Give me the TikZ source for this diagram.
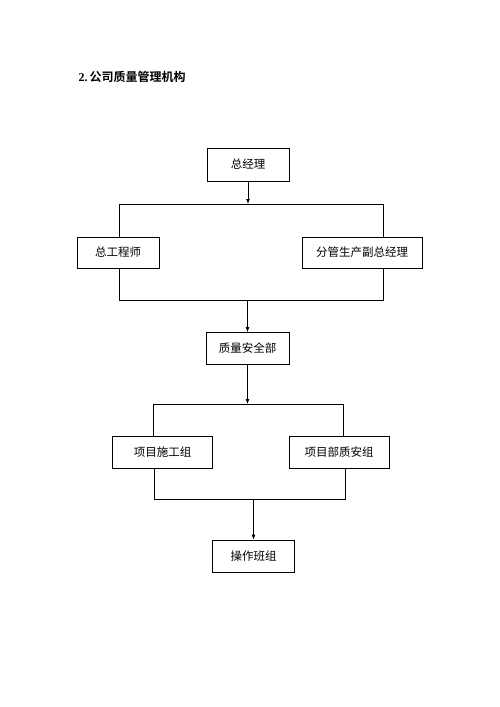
\documentclass[tikz,border=0pt]{standalone}
\usepackage{fontspec}
\setmainfont{Liberation Serif}
\newfontfamily\cjk{Noto Sans CJK SC}
\newfontfamily\cjkb{Noto Sans CJK SC Bold}
\usetikzlibrary{arrows.meta}
\begin{document}
\begin{tikzpicture}[x=1pt,y=-1pt,
  box/.style={draw, line width=0.8pt, inner sep=0pt, font=\cjk\fontsize{11.5}{13}\selectfont},
  ln/.style={line width=0.8pt},
  arr/.style={line width=0.8pt,-{Latex[length=5pt,width=4pt]}}]
\useasboundingbox (0,0) rectangle (500,707);
\node[anchor=west, font=\fontsize{12}{14}\selectfont] (title) at (75,77) {\textbf{2.}\,{\cjkb 公司质量管理机构}};
\node[box, minimum width=82pt, minimum height=33pt] (a) at (248,164.5) {总经理};
\node[box, minimum width=82pt, minimum height=31pt] (b) at (118,252.5) {总工程师};
\node[box, minimum width=120pt, minimum height=31pt] (c) at (362,252.5) {分管生产副总经理};
\node[box, minimum width=83pt, minimum height=32pt] (d) at (247.5,348.5) {质量安全部};
\node[box, minimum width=100pt, minimum height=32pt] (e) at (162.5,452.5) {项目施工组};
\node[box, minimum width=100pt, minimum height=32pt] (f) at (339,452.5) {项目部质安组};
\node[box, minimum width=82pt, minimum height=32pt] (g) at (253.5,556) {操作班组};
% level 1
\coordinate (t1l) at (119,204);
\coordinate (t1r) at (383,204);
\coordinate (b1l) at (119,300);
\coordinate (b1r) at (383,300);
\draw[arr] (a.south) -- (a.south |- t1l);
\draw[ln] (t1l |- b.north) -- (t1l) -- (t1r) -- (t1r |- c.north);
\draw[ln] (t1l |- b.south) -- (b1l) -- (b1r) -- (t1r |- c.south);
\draw[arr] (d.north |- b1l) -- (d.north);
% level 2
\coordinate (t2l) at (153,404);
\coordinate (t2r) at (343,404);
\coordinate (b2l) at (154,499);
\coordinate (b2r) at (345,499);
\draw[arr] (d.south) -- (d.south |- t2l);
\draw[ln] (t2l |- e.north) -- (t2l) -- (t2r) -- (t2r |- f.north);
\draw[ln] (b2l |- e.south) -- (b2l) -- (b2r) -- (b2r |- f.south);
\draw[arr] (g.north |- b2l) -- (g.north);
\end{tikzpicture}
\end{document}
